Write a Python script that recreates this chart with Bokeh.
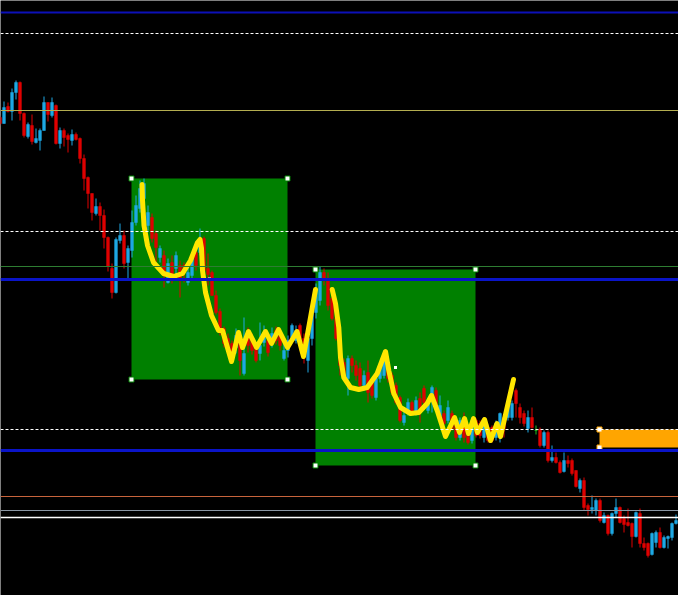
from bokeh.plotting import figure
from bokeh.models import ColumnDataSource, Span, Range1d
from bokeh.embed import file_html
from bokeh.resources import INLINE

# ---------------- data ----------------
bars = list(range(-1, 169))

opens = [1.2883, 1.2877, 1.2894, 1.2889, 1.2908, 1.2918, 1.2887, 1.2864, 1.2875, 1.2858,
         1.2860, 1.2870, 1.2898, 1.2885, 1.2895, 1.2857, 1.2870, 1.2865, 1.2860, 1.2866,
         1.2862, 1.2842, 1.2823, 1.2807, 1.2787, 1.2794, 1.2785, 1.2763, 1.2732, 1.2708,
         1.2760, 1.2765, 1.2738, 1.2750, 1.2778, 1.2792, 1.2802, 1.2775, 1.2783, 1.2767,
         1.2743, 1.2745, 1.2718, 1.2738, 1.2732, 1.2735, 1.2735, 1.2718, 1.2725, 1.2748,
         1.2748, 1.2762, 1.2732, 1.2728, 1.2705, 1.2689, 1.2672, 1.2662, 1.2657, 1.2653,
         1.2662, 1.2627, 1.2668, 1.2663, 1.2653, 1.2647, 1.2658, 1.2660, 1.2658, 1.2670,
         1.2667, 1.2642, 1.2650, 1.2663, 1.2660, 1.2675, 1.2662, 1.2640, 1.2662, 1.2688,
         1.2700, 1.2728, 1.2722, 1.2702, 1.2682, 1.2662, 1.2638, 1.2622, 1.2642, 1.2635,
         1.2632, 1.2615, 1.2628, 1.2618, 1.2603, 1.2622, 1.2625, 1.2638, 1.2625, 1.2615,
         1.2603, 1.2578, 1.2588, 1.2598, 1.2588, 1.2602, 1.2612, 1.2590, 1.2602, 1.2610,
         1.2584, 1.2587, 1.2580, 1.2587, 1.2580, 1.2563, 1.2583, 1.2570, 1.2560, 1.2580,
         1.2577, 1.2563, 1.2573, 1.2573, 1.2563, 1.2563, 1.2583, 1.2583, 1.2583, 1.2610,
         1.2593, 1.2587, 1.2572, 1.2583, 1.2570, 1.2571, 1.2555, 1.2568, 1.2540, 1.2543,
         1.2538, 1.2529, 1.2540, 1.2540, 1.2530, 1.2512, 1.2520, 1.2495, 1.2491, 1.2490,
         1.2500, 1.2478, 1.2485, 1.2467, 1.2487, 1.2493, 1.2482, 1.2478, 1.2477, 1.2464,
         1.2487, 1.2457, 1.2457, 1.2446, 1.2458, 1.2468, 1.2453, 1.2462, 1.2463, 1.2477]

highs = [1.2885, 1.2899, 1.2898, 1.2912, 1.2920, 1.2919, 1.2888, 1.2878, 1.2886, 1.2872,
         1.2872, 1.2904, 1.2898, 1.2903, 1.2896, 1.2873, 1.2872, 1.2867, 1.2871, 1.2868,
         1.2863, 1.2846, 1.2824, 1.2807, 1.2802, 1.2798, 1.2791, 1.2764, 1.2737, 1.2763,
         1.2777, 1.2770, 1.2755, 1.2790, 1.2805, 1.2820, 1.2822, 1.2795, 1.2787, 1.2770,
         1.2755, 1.2750, 1.2742, 1.2745, 1.2749, 1.2740, 1.2738, 1.2735, 1.2745, 1.2752,
         1.2772, 1.2764, 1.2747, 1.2730, 1.2710, 1.2692, 1.2674, 1.2667, 1.2660, 1.2672,
         1.2664, 1.2683, 1.2673, 1.2667, 1.2658, 1.2678, 1.2675, 1.2665, 1.2673, 1.2674,
         1.2672, 1.2660, 1.2665, 1.2677, 1.2675, 1.2677, 1.2667, 1.2677, 1.2695, 1.2717,
         1.2734, 1.2732, 1.2728, 1.2708, 1.2687, 1.2665, 1.2642, 1.2645, 1.2645, 1.2640,
         1.2638, 1.2630, 1.2640, 1.2622, 1.2625, 1.2638, 1.2650, 1.2640, 1.2628, 1.2618,
         1.2605, 1.2590, 1.2602, 1.2600, 1.2604, 1.2608, 1.2615, 1.2602, 1.2615, 1.2613,
         1.2605, 1.2590, 1.2600, 1.2590, 1.2582, 1.2583, 1.2588, 1.2572, 1.2583, 1.2582,
         1.2580, 1.2583, 1.2576, 1.2575, 1.2580, 1.2588, 1.2585, 1.2600, 1.2600, 1.2612,
         1.2597, 1.2590, 1.2590, 1.2593, 1.2575, 1.2573, 1.2570, 1.2570, 1.2555, 1.2548,
         1.2540, 1.2548, 1.2545, 1.2542, 1.2530, 1.2522, 1.2523, 1.2497, 1.2505, 1.2502,
         1.2502, 1.2488, 1.2486, 1.2488, 1.2502, 1.2494, 1.2485, 1.2492, 1.2478, 1.2489,
         1.2492, 1.2463, 1.2458, 1.2468, 1.2470, 1.2473, 1.2465, 1.2465, 1.2478, 1.2486]

lows = [1.2875, 1.2877, 1.2888, 1.2880, 1.2901, 1.2880, 1.2863, 1.2862, 1.2856, 1.2857,
        1.2850, 1.2870, 1.2879, 1.2883, 1.2856, 1.2852, 1.2854, 1.2848, 1.2855, 1.2860,
        1.2837, 1.2810, 1.2792, 1.2780, 1.2785, 1.2770, 1.2752, 1.2729, 1.2702, 1.2707,
        1.2757, 1.2732, 1.2721, 1.2743, 1.2775, 1.2788, 1.2800, 1.2770, 1.2758, 1.2738,
        1.2738, 1.2713, 1.2717, 1.2717, 1.2725, 1.2703, 1.2718, 1.2715, 1.2722, 1.2730,
        1.2745, 1.2725, 1.2715, 1.2705, 1.2686, 1.2665, 1.2653, 1.2648, 1.2637, 1.2647,
        1.2625, 1.2625, 1.2648, 1.2646, 1.2638, 1.2640, 1.2654, 1.2644, 1.2653, 1.2656,
        1.2650, 1.2640, 1.2643, 1.2660, 1.2657, 1.2650, 1.2637, 1.2628, 1.2655, 1.2682,
        1.2695, 1.2715, 1.2690, 1.2680, 1.2660, 1.2625, 1.2620, 1.2605, 1.2628, 1.2620,
        1.2612, 1.2610, 1.2598, 1.2602, 1.2600, 1.2618, 1.2622, 1.2618, 1.2605, 1.2596,
        1.2578, 1.2575, 1.2585, 1.2585, 1.2585, 1.2578, 1.2595, 1.2587, 1.2588, 1.2590,
        1.2580, 1.2575, 1.2577, 1.2570, 1.2560, 1.2560, 1.2558, 1.2556, 1.2557, 1.2563,
        1.2562, 1.2558, 1.2558, 1.2558, 1.2560, 1.2558, 1.2563, 1.2580, 1.2580, 1.2583,
        1.2577, 1.2574, 1.2568, 1.2572, 1.2566, 1.2553, 1.2553, 1.2538, 1.2538, 1.2537,
        1.2527, 1.2528, 1.2533, 1.2525, 1.2513, 1.2508, 1.2490, 1.2485, 1.2487, 1.2485,
        1.2478, 1.2477, 1.2465, 1.2465, 1.2483, 1.2477, 1.2468, 1.2474, 1.2453, 1.2463,
        1.2453, 1.2450, 1.2443, 1.2445, 1.2453, 1.2452, 1.2452, 1.2452, 1.2460, 1.2476]

closes = [1.2877, 1.2893, 1.2889, 1.2908, 1.2918, 1.2887, 1.2865, 1.2876, 1.2859, 1.2862,
          1.2870, 1.2898, 1.2886, 1.2898, 1.2857, 1.2870, 1.2863, 1.2861, 1.2866, 1.2861,
          1.2842, 1.2822, 1.2807, 1.2788, 1.2794, 1.2785, 1.2763, 1.2734, 1.2708, 1.2761,
          1.2765, 1.2737, 1.2752, 1.2778, 1.2795, 1.2812, 1.2817, 1.2788, 1.2762, 1.2753,
          1.2752, 1.2725, 1.2737, 1.2725, 1.2745, 1.2722, 1.2728, 1.2728, 1.2742, 1.2735,
          1.2762, 1.2730, 1.2726, 1.2705, 1.2688, 1.2670, 1.2657, 1.2650, 1.2643, 1.2665,
          1.2640, 1.2647, 1.2655, 1.2650, 1.2640, 1.2655, 1.2668, 1.2648, 1.2667, 1.2660,
          1.2655, 1.2650, 1.2660, 1.2675, 1.2670, 1.2655, 1.2644, 1.2662, 1.2688, 1.2710,
          1.2728, 1.2720, 1.2695, 1.2682, 1.2662, 1.2635, 1.2625, 1.2642, 1.2635, 1.2625,
          1.2615, 1.2625, 1.2608, 1.2605, 1.2622, 1.2635, 1.2642, 1.2622, 1.2608, 1.2598,
          1.2580, 1.2585, 1.2598, 1.2588, 1.2600, 1.2588, 1.2598, 1.2598, 1.2613, 1.2594,
          1.2595, 1.2577, 1.2593, 1.2572, 1.2563, 1.2580, 1.2563, 1.2558, 1.2580, 1.2565,
          1.2565, 1.2577, 1.2560, 1.2560, 1.2577, 1.2587, 1.2572, 1.2597, 1.2597, 1.2597,
          1.2583, 1.2577, 1.2583, 1.2573, 1.2570, 1.2555, 1.2568, 1.2540, 1.2543, 1.2538,
          1.2528, 1.2540, 1.2537, 1.2527, 1.2514, 1.2520, 1.2493, 1.2491, 1.2493, 1.2500,
          1.2480, 1.2485, 1.2467, 1.2487, 1.2493, 1.2478, 1.2476, 1.2475, 1.2464, 1.2488,
          1.2457, 1.2453, 1.2445, 1.2467, 1.2468, 1.2453, 1.2463, 1.2464, 1.2477, 1.2480]

# horizontal levels (price, colour, width, dash)
level_prices = [1.2988, 1.2967, 1.2890, 1.2769, 1.2734, 1.2721, 1.2571, 1.2550, 1.2504, 1.2490, 1.2483]
level_colors = ["#0c10b8", "#ffffff", "#b4ae50", "#ffffff", "#2e7d32", "#0a14c8", "#ffffff",
                "#0a14c8", "#c8643c", "#8a96a4", "#ffffff"]
level_widths = [2, 1, 1, 1, 1, 3, 1, 3, 1, 1, 1.5]
level_dashes = ["solid", "3 2", "solid", "3 2", "solid", "solid", "3 2", "solid", "solid", "solid", "solid"]

# zones: left bar, right bar, top price, bottom price
zone_left = [31.875, 77.875, 148.875]
zone_right = [70.875, 117.875, 175.0]
zone_top = [1.2822, 1.2731, 1.2571]
zone_bottom = [1.2621, 1.2535, 1.2553]
zone_colors = ["#008000", "#008000", "#ffa500"]

# hand-drawn yellow paths (bar, price)
path1_x = [34.5, 34.63, 35.0, 35.88, 37.38, 39.88, 42.38, 44.63, 46.63, 48.38, 49.0, 49.38, 49.63,
           50.38, 51.88, 53.63, 54.63, 56.88, 58.63, 59.63, 61.13, 63.13, 65.38, 66.88, 68.63,
           70.88, 73.25, 74.88, 77.88]
path1_y = [1.2816, 1.2800, 1.2775, 1.2755, 1.2738, 1.2727, 1.2724, 1.2727, 1.2740, 1.2758, 1.2761,
           1.2752, 1.2730, 1.2708, 1.2685, 1.2670, 1.2670, 1.2639, 1.2668, 1.2653, 1.2669, 1.2653,
           1.2669, 1.2657, 1.2671, 1.2653, 1.2669, 1.2644, 1.2711]
path2_x = [82.05, 82.88, 83.7, 84.13, 84.95, 86.63, 88.7, 90.8, 93.3, 95.38, 96.2, 97.45, 99.13,
           101.63, 103.7, 105.8, 106.88, 108.3, 110.38, 112.63, 113.88, 115.13, 116.13, 117.38,
           118.38, 120.13, 121.63, 123.25, 124.13, 127.38]
path2_y = [1.2711, 1.2697, 1.2673, 1.2643, 1.2623, 1.2613, 1.2611, 1.2613, 1.2627, 1.2649, 1.2630,
           1.2607, 1.2593, 1.2587, 1.2588, 1.2597, 1.2605, 1.2590, 1.2564, 1.2583, 1.2568, 1.2582,
           1.2567, 1.2582, 1.2568, 1.2581, 1.2560, 1.2577, 1.2564, 1.2621]

# ---------------- figure ----------------
p = figure(width=678, height=595, output_backend="svg", toolbar_location=None,
           x_range=Range1d(-0.875, 168.625), y_range=Range1d(1.2405, 1.3000),
           min_border=0, background_fill_color="#000000", border_fill_color="#000000")
p.axis.visible = False
p.grid.visible = False
p.outline_line_color = None

# zones
p.quad(left=zone_left, right=zone_right, top=zone_top, bottom=zone_bottom,
       fill_color=zone_colors, line_color=None)

# thin level drawn dark where it crosses the first zone
p.segment(x0=[zone_left[0]], x1=[zone_right[0]], y0=[level_prices[4]], y1=[level_prices[4]],
          line_color="#0a2a0a", line_width=1)

# candles
up_c, dn_c, dj_c = "#1ea8e4", "#e00000", "#22c022"
cols = [up_c if c > o else (dn_c if c < o else dj_c) for o, c in zip(opens, closes)]
src = ColumnDataSource(dict(x=bars, o=opens, h=highs, l=lows, c=closes,
                            top=[max(o, c) for o, c in zip(opens, closes)],
                            bot=[min(o, c) for o, c in zip(opens, closes)],
                            col=cols))
p.segment(x0="x", x1="x", y0="h", y1="l", source=src, line_color="col", line_width=1)
p.vbar(x="x", width=0.7, top="top", bottom="bot", source=src,
       fill_color="col", line_color="col", line_width=0.5)

# levels
for pr, col, w, d in zip(level_prices, level_colors, level_widths, level_dashes):
    p.add_layout(Span(location=pr, dimension="width", line_color=col,
                      line_width=w, line_dash=d))

# anchor handles for zones
hx, hy = [], []
for i in range(2):
    for xx in (zone_left[i], zone_right[i]):
        for yy in (zone_top[i], zone_bottom[i]):
            hx.append(xx)
            hy.append(yy)
p.scatter(hx, hy, marker="square", size=5, fill_color="#ffffff", line_color="#008000", line_width=1)
p.scatter([zone_left[2], zone_left[2]], [zone_top[2], zone_bottom[2]], marker="square", size=5,
          fill_color="#ffffff", line_color="#ffa500", line_width=1)
cx = [(zone_left[i] + zone_right[i]) / 2 for i in range(2)]
cy = [(zone_top[i] + zone_bottom[i]) / 2 for i in range(2)]
p.scatter(cx, cy, marker="square", size=3, fill_color="#ffffff", line_color=None)

# yellow drawings
for xs, ys in ((path1_x, path1_y), (path2_x, path2_y)):
    p.line(xs, ys, line_color="#ffe600", line_width=5, line_join="round", line_cap="round")

open("out.html", "w").write(file_html(p, INLINE))
